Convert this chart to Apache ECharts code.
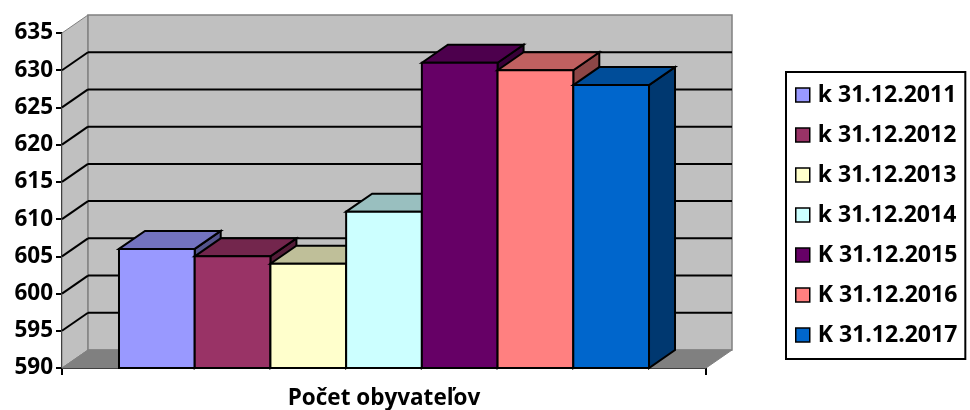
<!DOCTYPE html>
<html>
  <head>
    <meta charset="utf-8">
    <title>Počet obyvateľov</title>
    <script src="https://cdn.jsdelivr.net/npm/echarts@6/dist/echarts.min.js"></script>
  </head>
  <body style="margin:0">
    <div id="main" style="width: 970px; height: 410px"></div>
    <script>
      // data
      var category = ["Počet obyvateľov"];
      var seriesNames = ["k 31.12.2011", "k 31.12.2012", "k 31.12.2013", "k 31.12.2014",
                         "K 31.12.2015", "K 31.12.2016", "K 31.12.2017"];
      var seriesValues = [606, 605, 604, 611, 631, 630, 628];
      var frontColors = ["#9999ff", "#993366", "#ffffcc", "#ccffff", "#660066", "#ff8080", "#0066cc"];
      var yMin = 590, yMax = 635, yStep = 5;

      var DX = 26, DY = -18;      // 3d depth offset
      var GAP = 0.177;            // category gap

      function shade(hex, k) {
        var n = parseInt(hex.slice(1), 16);
        var r = Math.round(((n >> 16) & 255) * k), g = Math.round(((n >> 8) & 255) * k), b = Math.round((n & 255) * k);
        return "rgb(" + r + "," + g + "," + b + ")";
      }

      var chart = echarts.init(document.getElementById("main"));

      // walls, floor and gridlines
      function renderWall(params, api) {
        var cx = api.coord([0, yMin])[0];
        var w = api.size([1, 0])[0];
        var L = cx - w / 2, R = cx + w / 2;
        var yb = api.coord([0, yMin])[1], yt = api.coord([0, yMax])[1];
        var kids = [];
        kids.push({ type: "polygon", shape: { points: [[L, yb], [L, yt], [L + DX, yt + DY], [L + DX, yb + DY]] },
          style: { fill: "#c0c0c0", stroke: "#808080", lineWidth: 1 } });
        kids.push({ type: "rect", shape: { x: L + DX, y: yt + DY, width: w, height: yb - yt },
          style: { fill: "#c0c0c0", stroke: "#808080", lineWidth: 1.5 } });
        kids.push({ type: "polygon", shape: { points: [[L, yb], [L + DX, yb + DY], [R + DX, yb + DY], [R, yb]] },
          style: { fill: "#808080", stroke: "#808080", lineWidth: 1 } });
        for (var v = yMin + yStep; v < yMax; v += yStep) {
          var y = api.coord([0, v])[1];
          kids.push({ type: "line", shape: { x1: L + DX, y1: y + DY, x2: R + DX, y2: y + DY },
            style: { stroke: "#000", lineWidth: 2 } });
          kids.push({ type: "line", shape: { x1: L, y1: y, x2: L + DX, y2: y + DY },
            style: { stroke: "#000", lineWidth: 2 } });
        }
        return { type: "group", children: kids };
      }

      function makeBar(i) {
        return function (params, api) {
          var cx = api.coord([0, yMin])[0];
          var groupW = api.size([1, 0])[0] * (1 - GAP);
          var bw = groupW / seriesNames.length;
          var x0 = cx - groupW / 2 + i * bw;
          var yTop = api.coord([0, api.value(1)])[1];
          var yBot = api.coord([0, yMin])[1];
          var c = frontColors[i];
          var st = { stroke: "#000", lineWidth: 2, lineJoin: "miter" };
          return {
            type: "group",
            children: [
              { type: "polygon", shape: { points: [[x0 + bw, yTop], [x0 + bw + DX, yTop + DY], [x0 + bw + DX, yBot + DY], [x0 + bw, yBot]] },
                style: Object.assign({ fill: shade(c, 0.55) }, st) },
              { type: "polygon", shape: { points: [[x0, yTop], [x0 + DX, yTop + DY], [x0 + bw + DX, yTop + DY], [x0 + bw, yTop]] },
                style: Object.assign({ fill: shade(c, 0.75) }, st) },
              { type: "rect", shape: { x: x0, y: yTop, width: bw, height: yBot - yTop },
                style: Object.assign({ fill: c }, st) }
            ]
          };
        };
      }

      var series = [{
        type: "custom", name: "wall", z: 1, silent: true,
        renderItem: renderWall, data: [[0, yMin]]
      }];
      for (var i = 0; i < seriesNames.length; i++) {
        series.push({
          type: "custom", name: seriesNames[i], z: 2 + i,
          itemStyle: { color: frontColors[i] },
          renderItem: makeBar(i),
          data: [[0, seriesValues[i]]]
        });
      }

      var font = "'Open Sans', sans-serif";
      var option = {
        animation: false,
        backgroundColor: "#fff",
        grid: { left: 62, top: 33, width: 644, height: 335 },
        legend: {
          data: seriesNames,
          orient: "vertical",
          left: 786, top: 72,
          width: 182,
          padding: [10, 8, 11, 9],
          borderColor: "#000", borderWidth: 2,
          icon: "rect", itemWidth: 14, itemHeight: 14, itemGap: 14,
          selectedMode: false,
          itemStyle: { borderColor: "#000", borderWidth: 1.5 },
          textStyle: { fontFamily: font, fontWeight: "bold", fontSize: 23, color: "#000", lineHeight: 26, padding: [0, 0, 0, 3] }
        },
        xAxis: {
          type: "category",
          data: category,
          axisLine: { lineStyle: { color: "#000", width: 2 } },
          axisTick: { show: true, length: 7, lineStyle: { color: "#000", width: 2 } },
          axisLabel: { margin: 19, fontFamily: font, fontWeight: "bold", fontSize: 22.5, color: "#000" }
        },
        yAxis: {
          type: "value",
          min: yMin, max: yMax, interval: yStep,
          axisLine: { show: true, lineStyle: { color: "#000", width: 2 } },
          axisTick: { show: true, length: 6, lineStyle: { color: "#000", width: 2 } },
          axisLabel: { margin: 9, fontFamily: font, fontWeight: "bold", fontSize: 22.5, color: "#000" },
          splitLine: { show: false }
        },
        series: series
      };
      chart.setOption(option);
    </script>
  </body>
</html>
